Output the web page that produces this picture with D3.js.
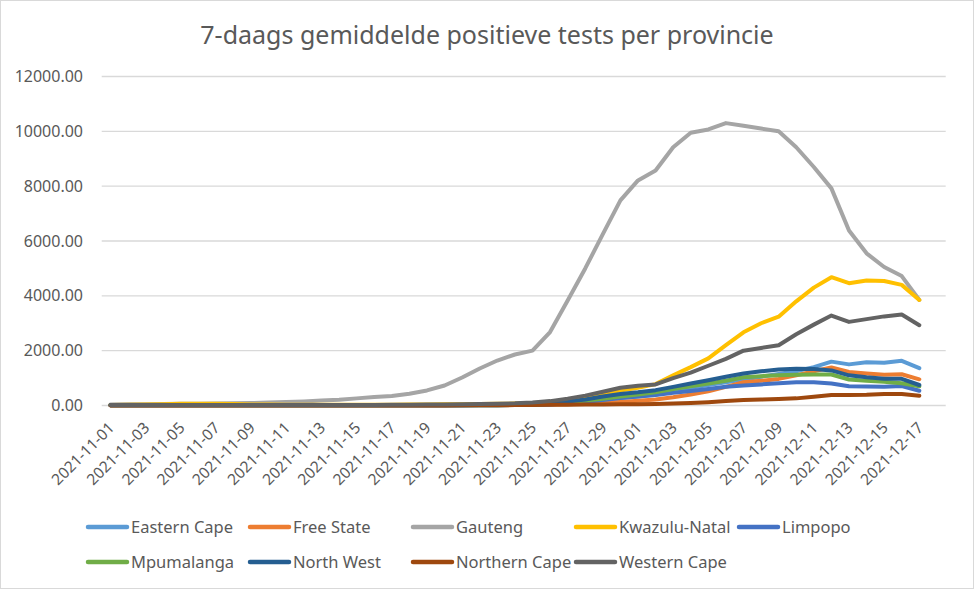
<!DOCTYPE html>
<html lang="nl">
<head>
<meta charset="UTF-8">
<title>7-daags gemiddelde positieve tests per provincie</title>
<script src="https://d3js.org/d3.v7.min.js"></script>
<style>
    body { margin: 0; background: #fff; overflow: hidden; }
    svg { display: block; font-family: 'Noto Sans', sans-serif; }
    .grid line { stroke: #d9d9d9; stroke-width: 1.3px; }
    .tick-label { fill: #595959; }
    .series { fill: none; stroke-width: 4px; stroke-linecap: round; stroke-linejoin: round; }
</style>
</head>
<body>
<svg width="974" height="589"></svg>
<script>
// dates 2021-11-01 .. 2021-12-18 (the last one has no data)
const dates = d3.range(48).map(i => d3.timeFormat("%Y-%m-%d")(new Date(2021, 10, 1 + i)));

const provinces = ["Eastern Cape", "Free State", "Gauteng", "Kwazulu-Natal", "Limpopo",
                   "Mpumalanga", "North West", "Northern Cape", "Western Cape"];
const colors = ["#5b9bd5", "#ed7d31", "#a5a5a5", "#ffc000", "#4472c4",
                "#70ad47", "#255e91", "#9e480e", "#636363"];

const easternCape = [5,5,5,5,5,5,5,5,5,5,5,5,5,5,5,5,5,5,5,5,8,10,12,15,20,40,
    100,150,200,270,330,400,500,650,750,850,950,1050,1150,1250,1400,1600,1500,1580,1560,1630,1360];
const freeState = [10,10,10,10,10,10,10,10,10,10,10,10,10,10,10,10,10,10,10,10,12,14,16,20,25,35,
    50,70,100,130,170,220,300,400,520,680,850,900,970,1100,1250,1390,1220,1170,1120,1140,955];
const gauteng = [40,45,50,55,60,65,70,80,90,110,130,150,180,210,260,310,350,430,550,730,1020,1350,
    1640,1860,2000,2680,3830,5000,6250,7480,8210,8570,9420,9950,10070,10300,10200,10100,10000,9420,
    8700,7920,6380,5550,5050,4720,3850];
const kwazuluNatal = [20,30,40,50,60,60,60,55,40,35,30,30,30,30,30,30,30,35,40,45,50,55,60,70,80,100,
    150,250,400,550,650,780,1100,1400,1720,2200,2670,3000,3240,3800,4300,4680,4460,4560,4540,4400,3850];
const limpopo = [5,5,5,5,5,5,5,5,5,5,5,5,5,5,5,5,5,5,5,5,8,10,12,15,20,40,
    80,130,200,270,330,380,460,530,600,680,730,770,810,850,850,800,700,690,680,710,540];
const mpumalanga = [5,5,5,5,5,5,5,5,5,5,5,5,5,5,5,5,5,5,5,5,8,10,12,15,25,60,
    120,180,250,330,400,480,600,700,800,900,1030,1070,1100,1120,1130,1130,950,900,870,810,700];
const northWest = [5,5,5,5,5,5,5,5,5,5,5,5,5,5,5,5,5,5,5,5,10,15,20,30,50,90,
    150,220,330,420,480,560,680,800,920,1050,1170,1250,1310,1340,1330,1280,1100,1030,980,975,748];
const northernCape = [3,3,3,3,3,3,3,3,3,3,3,3,3,3,3,3,3,3,3,3,5,8,10,15,20,25,
    30,35,40,45,50,55,70,90,120,160,200,220,240,260,320,380,380,390,420,420,357];
const westernCape = [20,20,20,20,20,20,20,20,20,20,20,20,20,20,20,20,25,30,35,40,45,55,65,80,110,160,
    250,360,500,650,720,770,1000,1200,1450,1700,2000,2100,2200,2600,2950,3280,3050,3150,3250,3320,2930];

const seriesValues = [easternCape, freeState, gauteng, kwazuluNatal, limpopo,
                      mpumalanga, northWest, northernCape, westernCape];

const yTicks = [0, 2000, 4000, 6000, 8000, 10000, 12000];

const svg = d3.select("svg");
const W = 974, H = 589;

svg.append("rect")
    .attr("x", 0.5).attr("y", 0.5)
    .attr("width", W - 1).attr("height", H - 1)
    .attr("fill", "#fff").attr("stroke", "#d9d9d9");

const x = d3.scaleBand().domain(dates).range([101.7, 945.7]);
const y = d3.scaleLinear().domain([0, 12000]).range([405.5, 76.5]);
const cx = d => x(d) + x.bandwidth() / 2;

// title
svg.append("text")
    .attr("x", W / 2).attr("y", 44)
    .attr("text-anchor", "middle")
    .attr("fill", "#595959")
    .style("font-size", "25px")
    .text("7-daags gemiddelde positieve tests per provincie");

// gridlines
svg.append("g").attr("class", "grid")
    .selectAll("line").data(yTicks).join("line")
    .attr("x1", 101.7).attr("x2", 945.7)
    .attr("y1", d => y(d)).attr("y2", d => y(d));

// y axis labels
svg.append("g")
    .selectAll("text").data(yTicks).join("text")
    .attr("class", "tick-label")
    .attr("x", 83).attr("y", d => y(d))
    .attr("dy", "0.35em")
    .attr("text-anchor", "end")
    .style("font-size", "16px")
    .text(d => d3.format(".2f")(d));

// x axis labels, every second date
svg.append("g")
    .selectAll("text").data(dates.filter((d, i) => i % 2 === 0)).join("text")
    .attr("class", "tick-label")
    .attr("transform", d => `translate(${cx(d) + 1},${425}) rotate(-45)`)
    .attr("dy", "0.35em")
    .attr("text-anchor", "end")
    .style("font-size", "15.5px")
    .text(d => d);

// lines
const line = d3.line()
    .x((v, i) => cx(dates[i]))
    .y(v => y(v));

svg.append("g")
    .selectAll("path").data(seriesValues).join("path")
    .attr("class", "series")
    .attr("stroke", (d, i) => colors[i])
    .attr("d", d => line(d));

// legend
const legendCols = [86, 248, 411, 574, 737];
const legendRows = [527, 562];
const legend = svg.append("g")
    .selectAll("g").data(provinces).join("g")
    .attr("transform", (d, i) => `translate(${legendCols[i % 5]},${legendRows[Math.floor(i / 5)]})`);

legend.append("line")
    .attr("x1", 2).attr("x2", 41)
    .attr("stroke", (d, i) => colors[i])
    .attr("stroke-width", 4.5)
    .attr("stroke-linecap", "round");

legend.append("text")
    .attr("class", "tick-label")
    .attr("x", 45)
    .attr("dy", "0.35em")
    .style("font-size", "16.5px")
    .text(d => d);
</script>
</body>
</html>
